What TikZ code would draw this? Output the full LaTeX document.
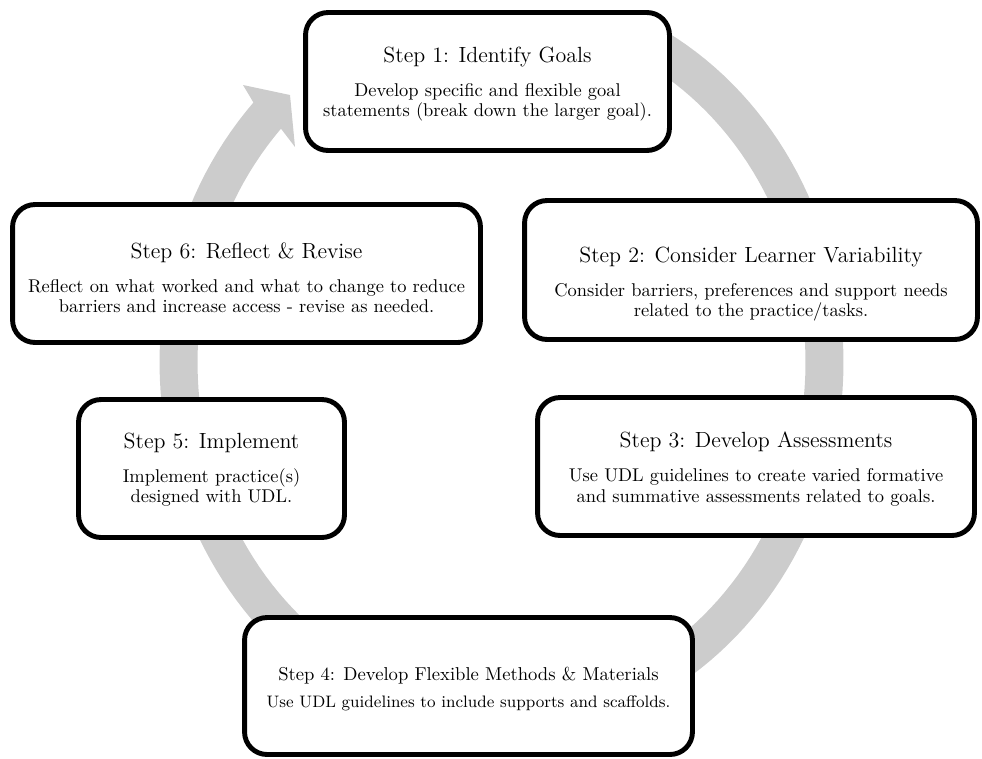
\documentclass[tikz,border=0pt]{standalone}
\usetikzlibrary{positioning,calc}
\newcommand{\steptitle}[1]{{\fontsize{12.5}{14}\selectfont #1}\\[8pt]}

\begin{document}
\begin{tikzpicture}[x=0.02cm, y=-0.02cm,
    stepbox/.style={draw, line width=2.8pt, rounded corners=0.45cm, fill=white},
    steptext/.style={align=center, inner sep=0pt, font=\fontsize{10.5}{11.4}\selectfont}]
      \useasboundingbox (0,0) rectangle (982,758);

      \fill[gray!40] plot[domain=136.5:423, samples=150] ({501.5+342*cos(\x)}, {362-377*sin(\x)})
        -- plot[domain=423:136.5, samples=150] ({501.5+304*cos(\x)}, {362-339*sin(\x)})
        -- (295,147) -- (290,95) -- (243,85) -- cycle;

      \node[stepbox, minimum width=7.28cm, minimum height=2.76cm] (step1) at (487.5,81.5) {};
      \node[stepbox, minimum width=9.06cm, minimum height=2.78cm] (step2) at (751,270) {};
      \node[stepbox, minimum width=8.74cm, minimum height=2.76cm] (step3) at (756,466.5) {};
      \node[stepbox, minimum width=8.96cm, minimum height=2.74cm] (step4) at (468.5,686) {};
      \node[stepbox, minimum width=5.32cm, minimum height=2.76cm] (step5) at (211.5,468.5) {};
      \node[stepbox, minimum width=9.36cm, minimum height=2.76cm] (step6) at (246.5,273.5) {};

      \node[steptext] (text1) at (487.5,84) {\steptitle{Step 1: Identify Goals}
        Develop specific and flexible goal\\ statements (break down the larger goal).};
      \node[steptext] (text2) at (751,284) {\steptitle{Step 2: Consider Learner Variability}
        Consider barriers, preferences and support needs\\ related to the practice/tasks.};
      \node[steptext] (text3) at (756,469) {\steptitle{Step 3: Develop Assessments}
        Use UDL guidelines to create varied formative\\ and summative assessments related to goals.};
      \node[steptext, font=\fontsize{9.45}{10.3}\selectfont] (text4) at (468.5,689) {%
        {\fontsize{10.6}{12}\selectfont Step 4: Develop Flexible Methods \& Materials}\\[5pt]
        Use UDL guidelines to include supports and scaffolds.};
      \node[steptext] (text5) at (211.5,470) {\steptitle{Step 5: Implement}
        Implement practice(s)\\ designed with UDL.};
      \node[steptext] (text6) at (246.5,278) {\steptitle{Step 6: Reflect \& Revise}
        Reflect on what worked and what to change to reduce\\ barriers and increase access - revise as needed.};
\end{tikzpicture}
\end{document}
